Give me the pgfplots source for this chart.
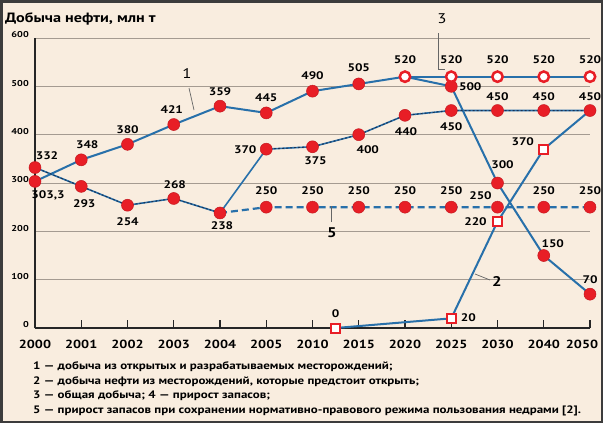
\documentclass[border=0pt]{standalone}
\usepackage{pgfplots}
\pgfplotsset{compat=1.18}
\usepackage{fontspec}
\setmainfont{PT Sans}[FakeStretch=1.2]
\definecolor{bg}{RGB}{249,237,223}
\definecolor{gridc}{RGB}{165,155,145}
\definecolor{ln}{RGB}{40,112,170}
\definecolor{dk}{RGB}{25,50,85}
\definecolor{rd}{RGB}{232,30,38}
\definecolor{framec}{RGB}{60,60,60}
\tikzset{lbl/.style={font=\fontsize{11}{13}\selectfont\bfseries, inner sep=0pt}}
\begin{document}
\begin{tikzpicture}[x=1pt,y=1pt]
\path[use as bounding box] (0,0) rectangle (603,-423);
\fill[bg] (0,0) rectangle (603,-423);
\draw[framec, line width=2.5pt] (1.25,-1.25) rectangle (601.75,-421.75);
\node[anchor=west, font=\fontsize{13.5}{15}\selectfont\bfseries, inner sep=0pt] at (5,-19) {Добыча нефти, млн т};
\begin{axis}[
  at={(35pt,-328pt)}, anchor=south west,
  scale only axis, width=555pt, height=290pt,
  xmin=0, xmax=12, ymin=0, ymax=600,
  clip=false,
  axis lines=left, axis line style={-, black!85, line width=1.6pt},
  xtick={0,...,12},
  xticklabels={2000,2001,2002,2003,2004,2005,2010,2015,2020,2025,2030,2040,\hspace*{-16pt}2050},
  ytick={0,100,...,600},
  ymajorgrids, grid style={gridc, line width=1pt},
  tick align=inside, major tick length=8pt,
  xtick style={black!85, line width=1.3pt},
  ytick style={draw=none},
  /pgf/number format/assume math mode=true,
  xticklabel style={font=\fontsize{11.8}{14}\selectfont\bfseries, inner sep=0pt, anchor=north, yshift=-11.5pt},
  yticklabel style={font=\fontsize{8.5}{10}\selectfont\bfseries, inner sep=0pt, anchor=east, xshift=-6pt, yshift=3pt},
]
% lines
\addplot[ln, line width=2pt] coordinates {(0,303.3)(1,348)(2,380)(3,421)(4,459)(5,445)(6,490)(7,505)(8,520)(9,500)(10,300)(11,150)(12,70)};
\addplot[ln, line width=2pt] coordinates {(8,520)(9,520)(10,520)(11,520)(12,520)};
\addplot[ln, line width=2pt] coordinates {(6.5,0)(9,20)(10,220)(11,370)(12,450)};
\addplot[ln, line width=1.6pt] coordinates {(0,332)(1,293)(2,254)(3,268)(4,238)(5,370)(6,375)(7,400)(8,440)(9,450)(10,450)(11,450)(12,450)};
\addplot[dk, line width=1pt, dash pattern=on 2pt off 2pt] coordinates {(0,332)(1,293)(2,254)(3,268)(4,238)};
\addplot[dk, line width=1pt, dash pattern=on 2pt off 2pt] coordinates {(5,370)(6,375)(7,400)(8,440)(9,450)(10,450)(11,450)(12,450)};
\addplot[ln, line width=2.2pt, dash pattern=on 7pt off 4pt] coordinates {(4,238)(5,250)(6,250)(7,250)(8,250)(9,250)(10,250)(11,250)(12,250)};
% markers
\addplot[only marks, mark=*, mark size=6pt, mark options={fill=rd, draw=rd!85!black, line width=0.5pt}] coordinates {(0,303.3)(1,348)(2,380)(3,421)(4,459)(5,445)(6,490)(7,505)(9,500)(10,300)(11,150)(12,70)};
\addplot[only marks, mark=*, mark size=6pt, mark options={fill=rd, draw=rd!85!black, line width=0.5pt}] coordinates {(0,332)(1,293)(2,254)(3,268)(4,238)(5,370)(6,375)(7,400)(8,440)(9,450)(10,450)(11,450)(12,450)};
\addplot[only marks, mark=*, mark size=6pt, mark options={fill=rd, draw=rd!85!black, line width=0.5pt}] coordinates {(5,250)(6,250)(7,250)(8,250)(9,250)(10,250)(11,250)(12,250)};
\addplot[only marks, mark=*, mark size=5.2pt, mark options={fill=white, draw=rd, line width=2.5pt}] coordinates {(8,520)(9,520)(10,520)(11,520)(12,520)};
\addplot[only marks, mark=square*, mark size=4.5pt, mark options={fill=white, draw=rd, line width=2pt}] coordinates {(6.5,0)(9,20)(10,220)(11,370)};
% labels series 1
\node[lbl, xshift=13pt, yshift=-14pt] at (axis cs:0,303.3) {303,3};
\node[lbl, xshift=6pt, yshift=15pt] at (axis cs:1,348) {348};
\node[lbl, yshift=15pt] at (axis cs:2,380) {380};
\node[lbl, xshift=-2pt, yshift=15pt] at (axis cs:3,421) {421};
\node[lbl, yshift=15pt] at (axis cs:4,459) {359};
\node[lbl, yshift=15pt] at (axis cs:5,445) {445};
\node[lbl, yshift=16pt] at (axis cs:6,490) {490};
\node[lbl, yshift=16pt] at (axis cs:7,505) {505};
\node[lbl, yshift=17pt] at (axis cs:8,520) {520};
\node[lbl, yshift=17pt] at (axis cs:9,520) {520};
\node[lbl, yshift=17pt] at (axis cs:10,520) {520};
\node[lbl, yshift=17pt] at (axis cs:11,520) {520};
\node[lbl, yshift=17pt] at (axis cs:12,520) {520};
\node[lbl, xshift=19pt] at (axis cs:9,500) {500};
\node[lbl, xshift=5pt, yshift=18pt] at (axis cs:10,300) {300};
\node[lbl, xshift=9pt, yshift=12pt] at (axis cs:11,150) {150};
\node[lbl, yshift=15pt] at (axis cs:12,70) {70};
% labels series 4
\node[lbl, xshift=12pt, yshift=12pt] at (axis cs:0,332) {332};
\node[lbl, xshift=3pt, yshift=-17pt] at (axis cs:1,293) {293};
\node[lbl, yshift=-16pt] at (axis cs:2,254) {254};
\node[lbl, xshift=1pt, yshift=14pt] at (axis cs:3,268) {268};
\node[lbl, xshift=2pt, yshift=-13pt] at (axis cs:4,238) {238};
\node[lbl, xshift=-21pt] at (axis cs:5,370) {370};
\node[lbl, xshift=3pt, yshift=-14pt] at (axis cs:6,375) {375};
\node[lbl, xshift=9pt, yshift=-15pt] at (axis cs:7,400) {400};
\node[lbl, xshift=1pt, yshift=-16pt] at (axis cs:8,440) {440};
\node[lbl, yshift=-16pt] at (axis cs:9,450) {450};
\node[lbl, yshift=14pt] at (axis cs:10,450) {450};
\node[lbl, yshift=14pt] at (axis cs:11,450) {450};
\node[lbl, yshift=14pt] at (axis cs:12,450) {450};
% labels series 5
\node[lbl, yshift=17pt] at (axis cs:5,250) {250};
\node[lbl, yshift=17pt] at (axis cs:6,250) {250};
\node[lbl, yshift=17pt] at (axis cs:7,250) {250};
\node[lbl, yshift=17pt] at (axis cs:8,250) {250};
\node[lbl, yshift=17pt] at (axis cs:9,250) {250};
\node[lbl, xshift=-17pt, yshift=12pt] at (axis cs:10,250) {250};
\node[lbl, yshift=17pt] at (axis cs:11,250) {250};
\node[lbl, yshift=17pt] at (axis cs:12,250) {250};
% labels series 2
\node[lbl, yshift=14pt] at (axis cs:6.5,0) {0};
\node[lbl, xshift=17pt, yshift=1pt] at (axis cs:9,20) {20};
\node[lbl, xshift=-22pt] at (axis cs:10,220) {220};
\node[lbl, xshift=-21pt, yshift=8pt] at (axis cs:11,370) {370};
\end{axis}
% leader annotations
\draw[black!60, line width=0.7pt] (189,-88) -- (194,-110);
\node[font=\fontsize{14}{16}\selectfont, inner sep=0pt] at (187,-74) {1};
\draw[black!60, line width=0.7pt] (438,-33) -- (438,-69) -- (445,-69);
\node[font=\fontsize{14}{16}\selectfont, inner sep=0pt] at (442,-19) {3};
\draw[black!60, line width=0.7pt] (331,-206) -- (331,-222);
\node[font=\fontsize{14}{16}\selectfont\bfseries, inner sep=0pt] at (332,-233) {5};
\draw[black!60, line width=0.7pt] (475,-274) -- (490,-280);
\node[font=\fontsize{14}{16}\selectfont\bfseries, inner sep=0pt] at (497,-282) {2};
% legend text
\begin{scope}[every node/.style={anchor=base west, inner sep=0pt, font=\fontsize{10.8}{12}\selectfont\bfseries}]
\node at (33,-369) {1 — добыча из открытых и разрабатываемых месторождений;};
\node at (33,-384) {2 — добыча нефти из месторождений, которые предстоит открыть;};
\node at (33,-398) {3 — общая добыча; 4 — прирост запасов;};
\node at (33,-413) {5 — прирост запасов при сохранении нормативно-правового режима пользования недрами [2].};
\end{scope}
\end{tikzpicture}
\end{document}
